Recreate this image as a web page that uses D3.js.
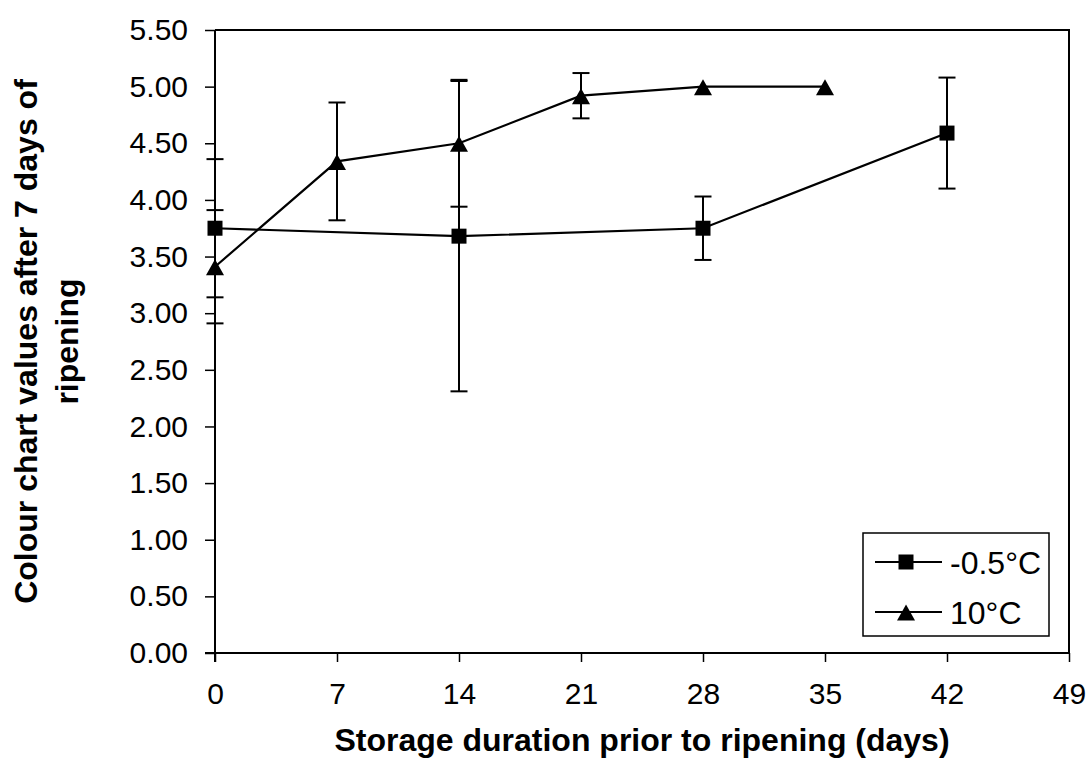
<!DOCTYPE html>
<html>
<head>
<meta charset="utf-8">
<script src="https://cdn.jsdelivr.net/npm/d3@7"></script>
<style>
  html, body { margin: 0; padding: 0; background: #fff; }
  svg { display: block; font-family: "Liberation Sans", Arial, sans-serif; }
</style>
</head>
<body>
<svg id="chart" width="1089" height="779"></svg>
<script>
// Storage duration (days) and colour chart scores after 7 days of ripening
const coldDays   = [0, 14, 28, 42];
const coldValues = [3.75, 3.68, 3.75, 4.59];
const coldErrors = [0.61, 1.37, 0.28, 0.49];

const warmDays   = [0, 7, 14, 21, 28, 35];
const warmValues = [3.41, 4.34, 4.50, 4.92, 5.00, 5.00];
const warmErrors = [0.50, 0.52, 0.56, 0.20, 0, 0];

const xTicks = [0, 7, 14, 21, 28, 35, 42, 49];
const yTicks = [0, 0.5, 1, 1.5, 2, 2.5, 3, 3.5, 4, 4.5, 5, 5.5];
const seriesNames = ["-0.5°C", "10°C"];

const svg = d3.select("#chart");
const plotL = 215, plotR = 1069, plotT = 30, plotB = 653;

const x = d3.scaleLinear().domain([0, 49]).range([plotL, plotR]);
const y = d3.scaleLinear().domain([0, 5.5]).range([plotB, plotT]);

// plot area frame (top and right edges)
svg.append("path")
  .attr("d", `M${plotL},${plotT}H${plotR}V${plotB}`)
  .attr("fill", "none").attr("stroke", "#000").attr("stroke-width", 2);

// y axis
const yAxis = svg.append("g").attr("transform", `translate(${plotL},0)`)
  .call(d3.axisLeft(y).tickValues(yTicks).tickFormat(d3.format(".2f")).tickSize(10).tickPadding(17));
// x axis
const xAxis = svg.append("g").attr("transform", `translate(0,${plotB})`)
  .call(d3.axisBottom(x).tickValues(xTicks).tickSize(9).tickPadding(21));

[yAxis, xAxis].forEach(g => {
  g.select(".domain").attr("stroke", "#000").attr("stroke-width", 2);
  g.selectAll(".tick line").attr("stroke", "#000").attr("stroke-width", 1.5);
  g.selectAll(".tick text").attr("fill", "#000")
    .style("font-size", "30px").style("font-family", "'Liberation Sans', Arial, sans-serif");
});
yAxis.select(".domain").attr("d", `M0,${plotT}V${plotB + 9}`);
xAxis.select(".domain").attr("d", `M${plotL - 10},0H${plotR}`);

// axis titles
svg.append("text")
  .attr("x", (plotL + plotR) / 2).attr("y", 751)
  .attr("text-anchor", "middle")
  .style("font-size", "32px").style("font-weight", "bold")
  .text("Storage duration prior to ripening (days)");

const yTitle = svg.append("text")
  .attr("transform", `translate(0,${(plotT + plotB) / 2}) rotate(-90)`)
  .attr("text-anchor", "middle")
  .style("font-size", "32px").style("font-weight", "bold");
yTitle.append("tspan").attr("x", 0).attr("y", 37).text("Colour chart values after 7 days of");
yTitle.append("tspan").attr("x", 0).attr("y", 78).text("ripening");

const line = d3.line().x(d => x(d.day)).y(d => y(d.value));

function toPoints(days, values, errors) {
  return days.map((d, i) => ({ day: d, value: values[i], err: errors[i] }));
}
const cold = toPoints(coldDays, coldValues, coldErrors);
const warm = toPoints(warmDays, warmValues, warmErrors);

// connecting lines
[cold, warm].forEach(pts => {
  svg.append("path").datum(pts).attr("d", line)
    .attr("fill", "none").attr("stroke", "#000").attr("stroke-width", 2.2);
});

// error bars
function drawErrors(pts) {
  const g = svg.append("g").attr("stroke", "#000").attr("stroke-width", 2);
  pts.filter(p => p.err > 0).forEach(p => {
    const cx = x(p.day), y1 = y(p.value + p.err), y2 = y(p.value - p.err);
    g.append("line").attr("x1", cx).attr("x2", cx).attr("y1", y1).attr("y2", y2);
    g.append("line").attr("x1", cx - 8.5).attr("x2", cx + 8.5).attr("y1", y1).attr("y2", y1);
    g.append("line").attr("x1", cx - 8.5).attr("x2", cx + 8.5).attr("y1", y2).attr("y2", y2);
  });
}
drawErrors(cold);
drawErrors(warm);

// markers
const squarePath = "M-7.5,-7.5H7.5V7.5H-7.5Z";
const trianglePath = "M0,-7.5L9,8.5H-9Z";

svg.append("g").selectAll("path").data(cold).join("path")
  .attr("d", squarePath).attr("fill", "#000")
  .attr("transform", d => `translate(${x(d.day)},${y(d.value)})`);
svg.append("g").selectAll("path").data(warm).join("path")
  .attr("d", trianglePath).attr("fill", "#000")
  .attr("transform", d => `translate(${x(d.day)},${y(d.value)})`);

// legend
const legend = svg.append("g");
legend.append("rect").attr("x", 863).attr("y", 533).attr("width", 186).attr("height", 103)
  .attr("fill", "#fff").attr("stroke", "#000").attr("stroke-width", 1.5);
[squarePath, trianglePath].forEach((shape, i) => {
  const ly = 562 + i * 50;
  legend.append("line").attr("x1", 875).attr("x2", 942).attr("y1", ly).attr("y2", ly)
    .attr("stroke", "#000").attr("stroke-width", 2);
  legend.append("path").attr("d", shape).attr("fill", "#000")
    .attr("transform", `translate(906,${ly})`);
  legend.append("text").attr("x", 950).attr("y", ly + 12)
    .style("font-size", "32px").text(seriesNames[i]);
});
</script>
</body>
</html>
